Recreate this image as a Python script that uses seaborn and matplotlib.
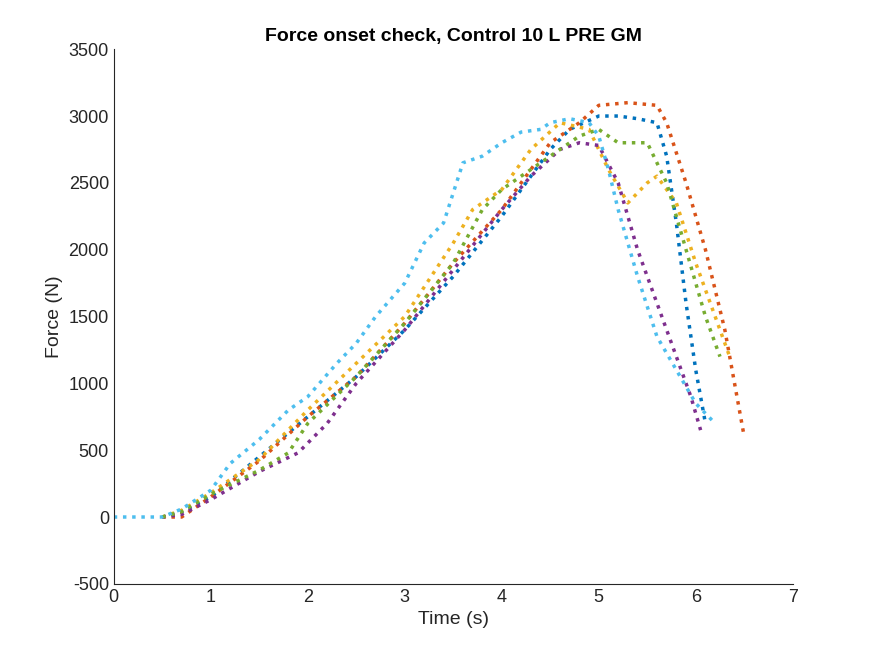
import numpy as np
import pandas as pd
import seaborn as sns
import matplotlib.pyplot as plt

# values (time s, force N)
cyan_t = [0, 0.3, 0.5, 0.7, 1.0, 1.2, 1.5, 1.8, 2.0, 2.3, 2.5, 2.7, 3.0, 3.2, 3.4, 3.6, 3.8, 4.0, 4.2, 4.4, 4.5, 4.7, 4.9, 5.0, 5.1, 5.2, 5.4, 5.6, 5.8, 6.0, 6.2]
cyan_f = [0, 0, 0, 60, 200, 400, 580, 800, 900, 1150, 1300, 1500, 1750, 2050, 2200, 2650, 2700, 2800, 2880, 2900, 2950, 2980, 2950, 2850, 2600, 2300, 1800, 1350, 1100, 850, 700]
blue_t = [0.5, 0.7, 1.0, 1.5, 2.0, 2.5, 3.0, 3.5, 4.0, 4.3, 4.5, 4.7, 5.0, 5.2, 5.4, 5.6, 5.7, 5.8, 5.9, 6.0, 6.1]
blue_f = [0, 40, 150, 450, 750, 1050, 1400, 1800, 2250, 2550, 2750, 2900, 3000, 3000, 2980, 2950, 2700, 2200, 1600, 1100, 700]
orange_t = [0.5, 0.7, 1.0, 1.5, 2.0, 2.5, 3.0, 3.5, 4.0, 4.5, 4.8, 5.0, 5.3, 5.6, 5.7, 5.9, 6.1, 6.3, 6.4, 6.5]
orange_f = [0, 0, 150, 420, 750, 1050, 1450, 1900, 2300, 2800, 2950, 3080, 3100, 3080, 2950, 2500, 2000, 1400, 1000, 600]
yellow_t = [0.5, 0.7, 1.0, 1.5, 2.0, 2.5, 3.0, 3.5, 3.7, 4.0, 4.3, 4.6, 4.9, 5.1, 5.3, 5.5, 5.6, 5.8, 6.0, 6.2, 6.35]
yellow_f = [0, 50, 180, 430, 800, 1150, 1500, 2050, 2300, 2450, 2750, 2950, 2900, 2600, 2350, 2500, 2550, 2350, 1900, 1500, 1200]
green_t = [0.5, 0.7, 1.0, 1.5, 1.8, 2.0, 2.5, 3.0, 3.5, 3.8, 4.0, 4.5, 4.8, 5.0, 5.2, 5.5, 5.7, 5.9, 6.1, 6.2, 6.25]
green_f = [0, 40, 170, 350, 480, 700, 1050, 1450, 1900, 2300, 2450, 2700, 2850, 2900, 2800, 2800, 2500, 2000, 1500, 1300, 1200]
purple_t = [0.5, 0.7, 1.0, 1.5, 1.9, 2.2, 2.5, 3.0, 3.5, 4.0, 4.3, 4.6, 4.8, 5.0, 5.2, 5.4, 5.6, 5.8, 5.95, 6.05]
purple_f = [0, 20, 130, 340, 480, 700, 1000, 1400, 1850, 2300, 2550, 2750, 2800, 2780, 2500, 2000, 1600, 1200, 900, 650]

series = [
    ("blue", blue_t, blue_f, "#0072BD"),
    ("orange", orange_t, orange_f, "#D95319"),
    ("yellow", yellow_t, yellow_f, "#EDB120"),
    ("purple", purple_t, purple_f, "#7E2F8E"),
    ("green", green_t, green_f, "#77AC30"),
    ("cyan", cyan_t, cyan_f, "#4DBEEE"),
]
frames = [pd.DataFrame({"time": t, "force": f, "trial": n}) for n, t, f, _ in series]
df = pd.concat(frames, ignore_index=True)
palette = {n: c for n, _, _, c in series}

sns.set_style("white")
plt.rcParams["font.family"] = ["Liberation Sans", "DejaVu Sans"]
plt.rcParams["axes.unicode_minus"] = False
fig = plt.figure(figsize=(8.75, 6.56), dpi=100)
ax = fig.add_axes([0.130, 0.110, 0.776, 0.815])
sns.lineplot(data=df, x="time", y="force", hue="trial", palette=palette, sort=False,
             estimator=None, linestyle=":", linewidth=2.5, legend=False, ax=ax)

ax.set_xlim(0, 7)
ax.set_ylim(-500, 3500)
ax.set_xticks(range(0, 8))
ax.set_yticks(range(-500, 3501, 500))
ax.tick_params(direction="in", labelsize=13, colors="#262626", length=4)
for s in ["top", "right"]:
    ax.spines[s].set_visible(False)
for s in ["left", "bottom"]:
    ax.spines[s].set_color("#262626")
ax.set_xlabel("Time (s)", fontsize=14, color="#262626")
ax.set_ylabel("Force (N)", fontsize=14, color="#262626")
ax.set_title("Force onset check, Control 10 L PRE GM", fontsize=14, fontweight="bold", color="black")
fig.savefig("out.png", dpi=100)
